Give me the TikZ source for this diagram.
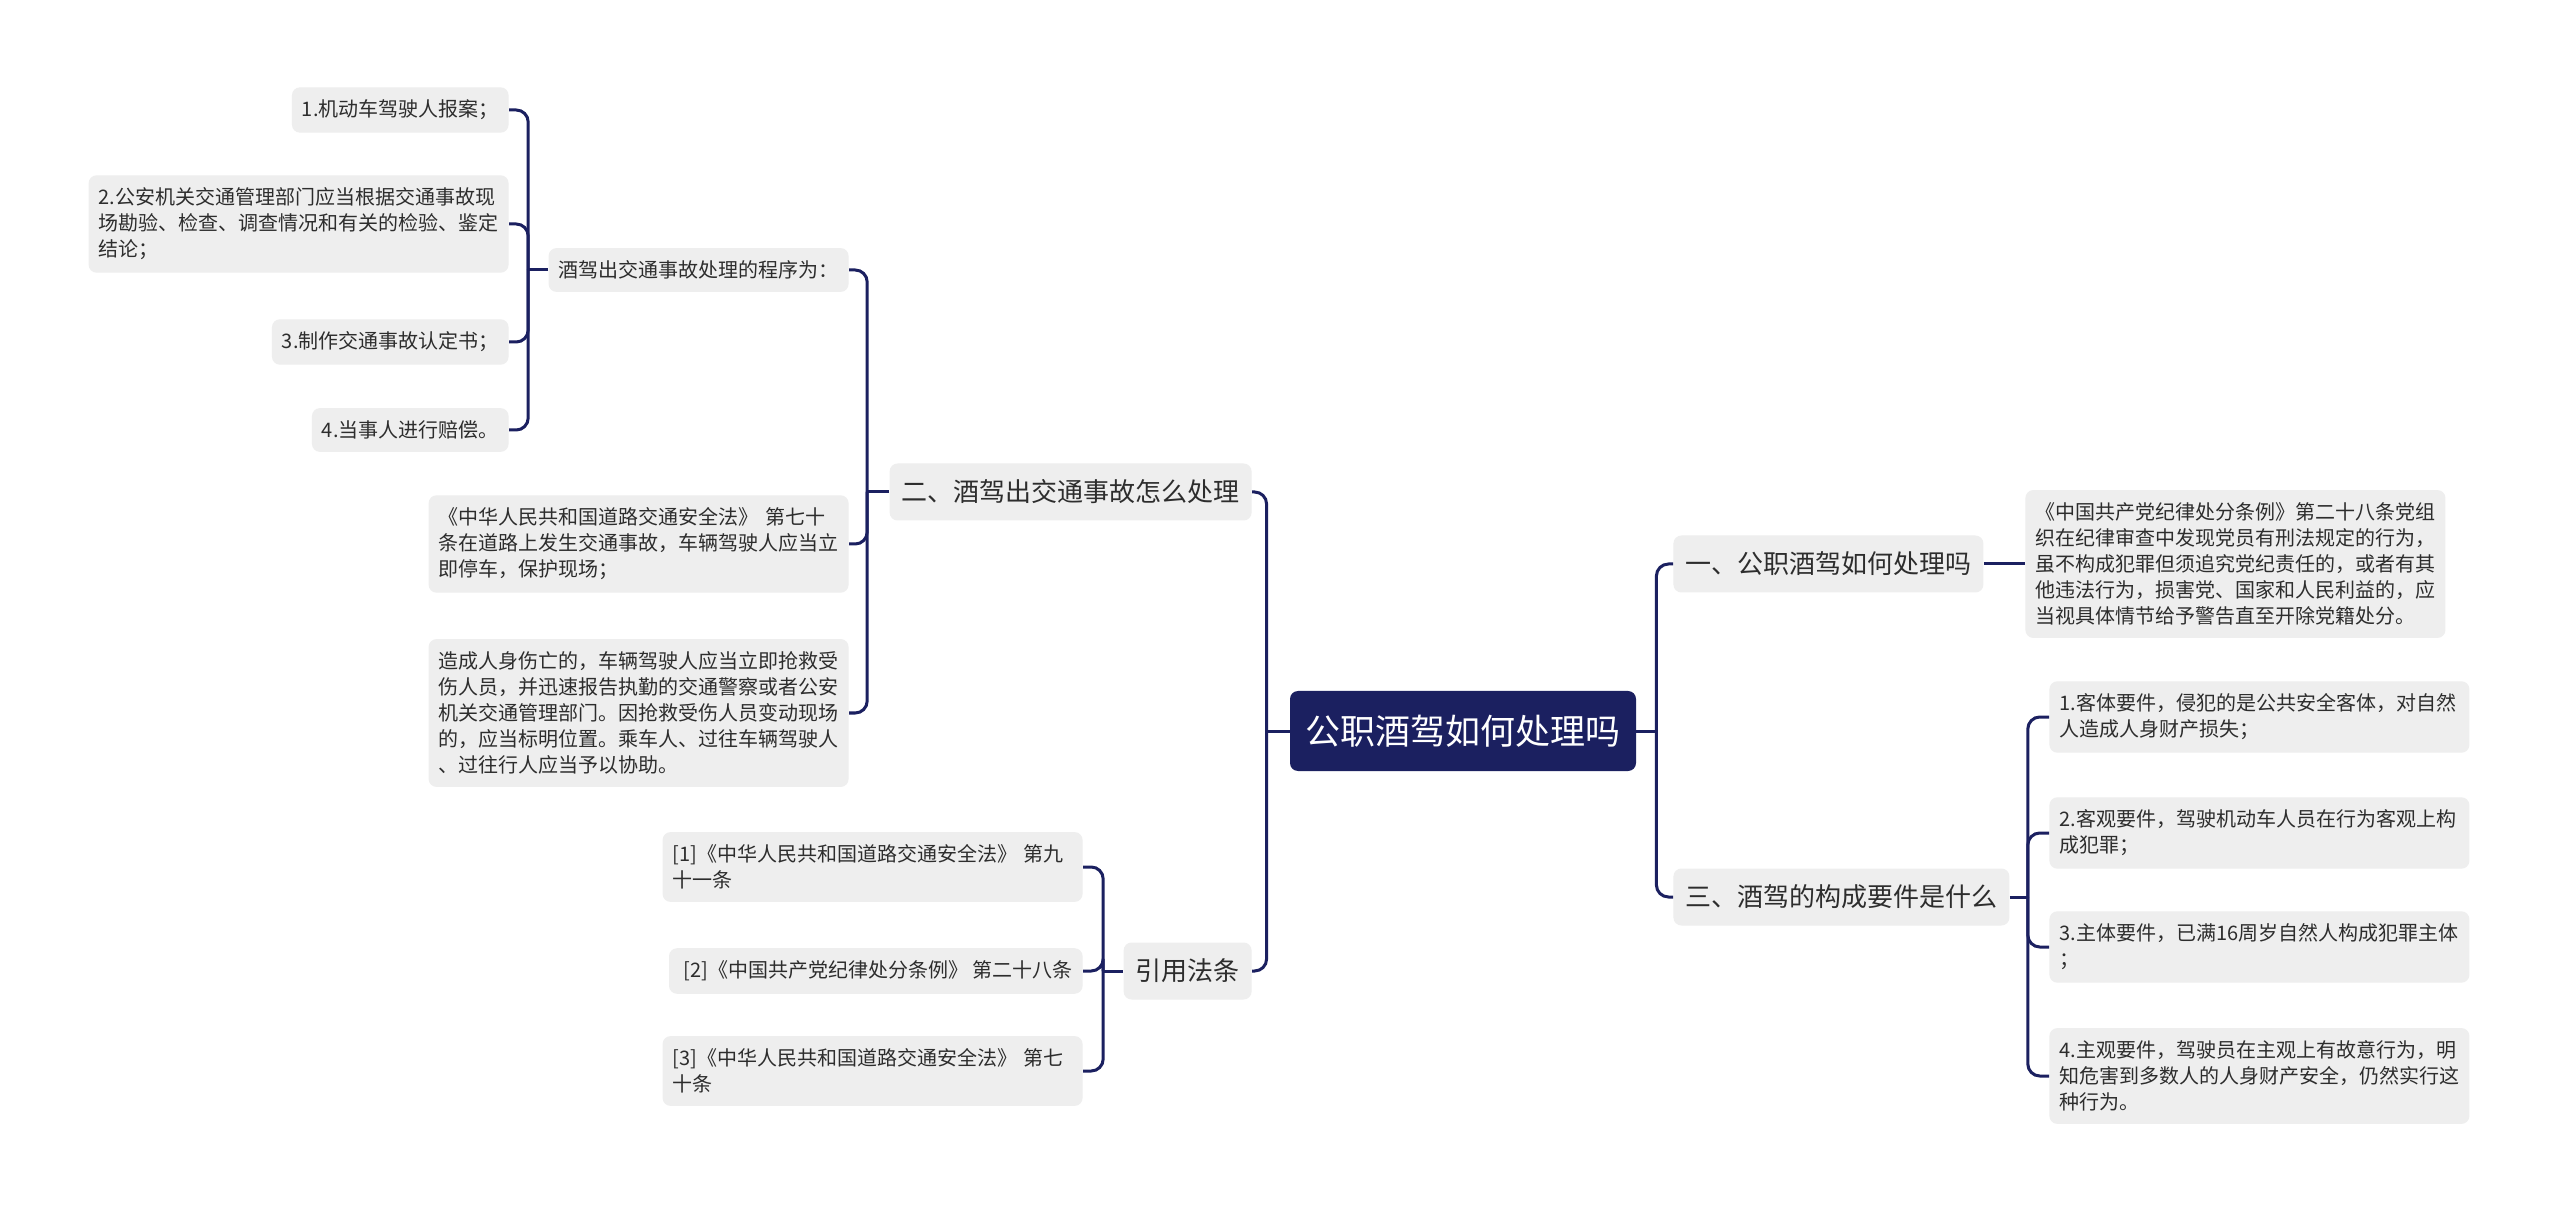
\documentclass[tikz,border=0pt]{standalone}
\usepackage{fontspec}
\setmainfont{Noto Sans CJK SC}
\definecolor{navy}{RGB}{27,32,96}
\definecolor{boxgrey}{RGB}{238,238,238}
\definecolor{ink}{RGB}{45,45,45}
\begin{document}
\begin{tikzpicture}[
  x=0.5pt, y=-0.5pt,
  base/.style={rounded corners=4pt, fill=boxgrey, text=ink, inner ysep=6.3pt, inner xsep=5pt, align=left},
  root/.style={rounded corners=4pt, fill=navy, text=white, font=\fontsize{17.5pt}{21pt}\selectfont, minimum width=173pt, minimum height=40pt},
  topic/.style={base, font=\fontsize{13pt}{16pt}\selectfont, inner xsep=6pt, minimum height=28.5pt},
  leaf/.style={base, font=\fontsize{10pt}{13pt}\selectfont},
  wide/.style={leaf, text width=200pt},
  link/.style={draw=navy, line width=1.5pt, rounded corners=6pt}
]
\fill[white] (0,0) rectangle (2560,1213);
\useasboundingbox (0,0) rectangle (2560,1213);

\node[root] (root) at (1463,731) {公职酒驾如何处理吗};

% left side
\node[topic, anchor=east] (b2) at (1252,492) {二、酒驾出交通事故怎么处理};
\node[topic, anchor=east] (b4) at (1252,971) {引用法条};

\node[leaf, anchor=east] (p) at (849,270) {酒驾出交通事故处理的程序为：};
\node[leaf, anchor=east] (s1) at (509,110) {1.机动车驾驶人报案；};
\node[wide, anchor=east] (s2) at (509,224) {2.公安机关交通管理部门应当根据交通事故现\\场勘验、检查、调查情况和有关的检验、鉴定\\结论；};
\node[leaf, anchor=east] (s3) at (509,342) {3.制作交通事故认定书；};
\node[leaf, anchor=east] (s4) at (509,430) {4.当事人进行赔偿。};
\node[wide, anchor=east] (l1) at (849,544) {《中华人民共和国道路交通安全法》 第七十\\条在道路上发生交通事故，车辆驾驶人应当立\\即停车，保护现场；};
\node[wide, anchor=east] (l2) at (849,713) {造成人身伤亡的，车辆驾驶人应当立即抢救受\\伤人员，并迅速报告执勤的交通警察或者公安\\机关交通管理部门。因抢救受伤人员变动现场\\的，应当标明位置。乘车人、过往车辆驾驶人\\、过往行人应当予以协助。};

\node[wide, anchor=east] (c1) at (1083,867) {[1]《中华人民共和国道路交通安全法》 第九\\十一条};
\node[leaf, anchor=east] (c2) at (1083,971) {\ [2]《中国共产党纪律处分条例》 第二十八条};
\node[wide, anchor=east] (c3) at (1083,1071) {[3]《中华人民共和国道路交通安全法》 第七\\十条};

% right side
\node[topic, anchor=west] (b1) at (1673,564) {一、公职酒驾如何处理吗};
\node[topic, anchor=west] (b3) at (1673,897) {三、酒驾的构成要件是什么};

\node[wide, anchor=west] (r1) at (2025,564) {《中国共产党纪律处分条例》第二十八条党组\\织在纪律审查中发现党员有刑法规定的行为，\\虽不构成犯罪但须追究党纪责任的，或者有其\\他违法行为，损害党、国家和人民利益的，应\\当视具体情节给予警告直至开除党籍处分。};

\node[wide, anchor=west] (k1) at (2049,717) {1.客体要件，侵犯的是公共安全客体，对自然\\人造成人身财产损失；};
\node[wide, anchor=west] (k2) at (2049,833) {2.客观要件，驾驶机动车人员在行为客观上构\\成犯罪；};
\node[wide, anchor=west] (k3) at (2049,947) {3.主体要件，已满16周岁自然人构成犯罪主体\\；};
\node[wide, anchor=west] (k4) at (2049,1076) {4.主观要件，驾驶员在主观上有故意行为，明\\知危害到多数人的人身财产安全，仍然实行这\\种行为。};

% connectors
\draw[link] (root.west) -- ++(-23,0) coordinate (jl);
\foreach \c in {b2,b4} \draw[link] (jl) |- (\c.east);
\draw[link] (b2.west) -- ++(-22,0) coordinate (j2);
\foreach \c in {p,l1,l2} \draw[link] (j2) |- (\c.east);
\draw[link] (p.west) -- ++(-20,0) coordinate (jp);
\foreach \c in {s1,s2,s3,s4} \draw[link] (jp) |- (\c.east);
\draw[link] (b4.west) -- ++(-20,0) coordinate (j4);
\foreach \c in {c1,c2,c3} \draw[link] (j4) |- (\c.east);

\draw[link] (root.east) -- ++(20,0) coordinate (jr);
\foreach \c in {b1,b3} \draw[link] (jr) |- (\c.west);
\draw[link] (b1.east) -- (r1.west);
\draw[link] (b3.east) -- ++(18,0) coordinate (j3);
\foreach \c in {k1,k2,k3,k4} \draw[link] (j3) |- (\c.west);
\end{tikzpicture}
\end{document}
